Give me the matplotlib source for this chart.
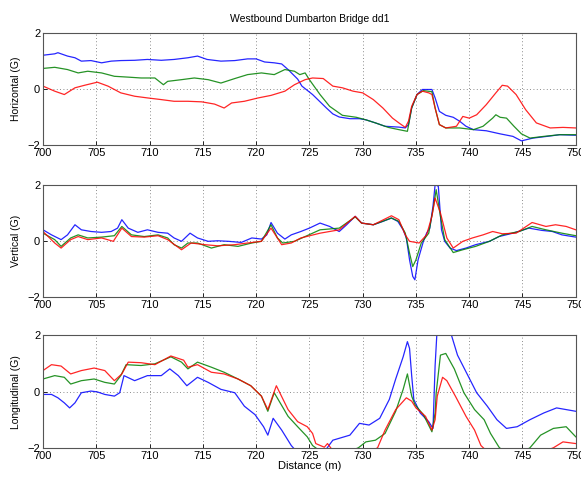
import matplotlib
matplotlib.use("Agg")
import matplotlib.pyplot as plt


# Horizontal (G)
h_blue_x = [700.0, 701.1, 701.4, 702.3, 703.0, 703.6, 704.5, 705.5, 706.4, 707.3, 708.6, 709.8, 711.1, 712.3,
            713.6, 714.5, 715.4, 716.7, 718.0, 719.2, 720.0, 720.8, 721.7, 722.4, 723.0, 723.9, 724.3, 725.3,
            726.6, 727.2, 727.8, 728.8, 729.7, 730.3, 731.2, 732.1, 733.4, 734.0, 734.3, 734.6, 735.1, 735.6,
            736.5, 736.8, 737.2, 737.8, 738.5, 739.1, 739.7, 740.4, 741.6, 742.9, 744.1, 744.9, 746.0, 747.3,
            748.5, 750.0]
h_blue_y = [1.20, 1.25, 1.29, 1.17, 1.11, 0.99, 1.01, 0.93, 0.99, 1.01, 1.02, 1.05, 1.02, 1.05,
            1.11, 1.17, 1.05, 0.99, 1.01, 1.07, 1.07, 0.96, 0.93, 0.89, 0.69, 0.35, 0.10, -0.20,
            -0.68, -0.89, -1.00, -1.06, -1.06, -1.10, -1.21, -1.33, -1.36, -1.39, -1.27, -0.68, -0.20, -0.02,
            -0.02, -0.32, -0.80, -0.94, -1.01, -1.15, -1.33, -1.45, -1.49, -1.60, -1.69, -1.85, -1.75, -1.69,
            -1.63, -1.65]
h_green_x = [700.0, 701.1, 702.3, 703.3, 704.2, 705.5, 706.7, 708.0, 709.2, 710.5, 711.3, 711.7, 713.0, 714.2,
             715.5, 716.7, 718.0, 719.2, 720.5, 721.7, 722.7, 723.6, 724.1, 724.6, 725.0, 726.0, 726.9, 728.1,
             729.4, 730.3, 731.2, 732.4, 733.4, 734.2, 734.6, 735.1, 735.7, 736.5, 736.8, 737.2, 737.8, 739.1,
             740.4, 741.3, 742.2, 742.5, 742.9, 743.5, 744.2, 744.9, 745.7, 747.0, 748.5, 750.0]
h_green_y = [0.73, 0.77, 0.69, 0.57, 0.63, 0.57, 0.45, 0.42, 0.39, 0.39, 0.15, 0.27, 0.33, 0.39,
             0.33, 0.21, 0.37, 0.51, 0.57, 0.51, 0.69, 0.63, 0.51, 0.57, 0.33, -0.20, -0.62, -0.94,
             -1.01, -1.10, -1.21, -1.37, -1.45, -1.51, -0.68, -0.20, -0.06, -0.10, -0.68, -1.27, -1.39, -1.39,
             -1.45, -1.33, -1.04, -0.92, -1.01, -1.04, -1.33, -1.60, -1.75, -1.69, -1.63, -1.63]
h_red_x = [700.0, 701.1, 702.0, 703.0, 703.9, 705.1, 706.1, 707.3, 708.6, 709.8, 711.1, 712.3, 713.6, 714.9,
           716.1, 717.0, 717.7, 718.9, 720.2, 721.4, 722.7, 723.6, 724.6, 725.3, 726.3, 727.2, 728.1, 729.1,
           730.0, 731.0, 731.9, 732.8, 733.4, 734.0, 734.3, 734.6, 735.1, 735.6, 736.2, 736.5, 736.8, 737.2,
           737.8, 738.8, 739.4, 740.0, 740.7, 741.6, 742.5, 743.1, 743.6, 744.4, 745.3, 746.3, 747.6, 748.8,
           750.0]
h_red_y = [0.10, -0.08, -0.20, 0.04, 0.13, 0.24, 0.10, -0.14, -0.26, -0.32, -0.38, -0.44, -0.44, -0.46,
           -0.54, -0.68, -0.50, -0.44, -0.32, -0.23, -0.08, 0.15, 0.33, 0.39, 0.37, 0.10, 0.04, -0.08,
           -0.14, -0.38, -0.68, -1.04, -1.21, -1.37, -1.15, -0.62, -0.20, -0.08, -0.14, -0.20, -0.68, -1.27,
           -1.39, -1.33, -0.98, -1.04, -0.92, -0.56, -0.14, 0.13, 0.10, -0.20, -0.74, -1.21, -1.39, -1.37,
           -1.39]

# Vertical (G)
v_blue_x = [700.0, 700.8, 701.7, 702.3, 703.0, 703.6, 704.5, 705.5, 706.4, 707.0, 707.4, 708.0, 708.9, 709.8,
            710.8, 711.7, 712.3, 713.0, 713.8, 714.5, 715.5, 716.4, 717.4, 718.6, 719.6, 720.5, 721.0, 721.4,
            722.0, 722.7, 723.3, 724.2, 725.0, 726.0, 726.9, 727.8, 728.5, 729.3, 729.9, 731.0, 731.9, 732.7,
            733.3, 733.8, 734.1, 734.4, 734.7, 734.9, 735.2, 735.7, 736.0, 736.3, 736.6, 736.8, 737.1, 737.4,
            737.7, 738.2, 738.8, 739.7, 740.6, 741.9, 742.8, 744.1, 745.6, 746.8, 747.8, 748.7, 750.0]
v_blue_y = [0.39, 0.21, 0.04, 0.21, 0.57, 0.39, 0.33, 0.30, 0.33, 0.45, 0.75, 0.45, 0.30, 0.39,
            0.30, 0.27, 0.10, -0.02, 0.27, 0.10, -0.02, 0.00, -0.02, -0.06, 0.10, 0.06, 0.21, 0.65,
            0.27, 0.06, 0.21, 0.33, 0.45, 0.63, 0.51, 0.33, 0.57, 0.87, 0.63, 0.57, 0.69, 0.81,
            0.69, 0.39, 0.10, -0.68, -1.27, -1.39, -0.68, -0.02, 0.27, 0.45, 1.23, 2.00, 1.94, 0.39,
            -0.02, -0.26, -0.35, -0.26, -0.14, -0.02, 0.15, 0.27, 0.45, 0.37, 0.33, 0.21, 0.13]
v_green_x = [700.0, 701.1, 701.7, 702.6, 703.3, 704.2, 705.5, 706.7, 707.4, 708.3, 709.5, 710.8, 711.7, 712.3,
             713.0, 713.6, 714.5, 715.8, 717.0, 718.3, 719.6, 720.5, 721.4, 722.0, 722.5, 723.6, 724.6, 726.0,
             727.8, 729.3, 729.9, 731.0, 732.7, 733.4, 734.0, 734.4, 734.7, 735.0, 735.5, 736.2, 736.6, 736.9,
             737.3, 737.7, 738.5, 739.4, 740.6, 741.9, 743.1, 744.7, 745.9, 747.2, 748.7, 750.0]
v_green_y = [0.27, 0.04, -0.20, 0.10, 0.21, 0.10, 0.13, 0.18, 0.51, 0.21, 0.15, 0.21, 0.10, -0.14,
             -0.26, -0.08, -0.08, -0.26, -0.14, -0.20, -0.08, -0.02, 0.57, 0.10, -0.08, -0.02, 0.15, 0.39,
             0.45, 0.85, 0.63, 0.57, 0.81, 0.69, 0.27, -0.44, -0.92, -0.68, -0.08, 0.27, 1.11, 1.82,
             0.87, 0.04, -0.42, -0.32, -0.20, -0.02, 0.21, 0.33, 0.51, 0.39, 0.27, 0.18]
v_red_x = [700.0, 701.1, 701.7, 702.6, 703.3, 704.2, 705.5, 706.6, 707.4, 708.3, 709.5, 710.8, 711.7, 713.0,
           713.9, 715.2, 716.4, 718.0, 719.2, 720.5, 721.4, 722.4, 723.3, 724.2, 726.0, 727.8, 729.3, 729.9,
           731.0, 732.7, 733.4, 734.0, 734.4, 735.3, 736.0, 736.5, 736.8, 737.3, 737.9, 738.5, 739.4, 740.3,
           741.3, 742.2, 743.1, 744.4, 745.9, 747.2, 748.1, 749.1, 750.0]
v_red_y = [0.33, -0.08, -0.26, 0.04, 0.15, 0.04, 0.10, -0.02, 0.45, 0.15, 0.13, 0.18, 0.04, -0.32,
           -0.08, -0.14, -0.18, -0.14, -0.08, -0.02, 0.45, -0.14, -0.08, 0.10, 0.27, 0.39, 0.87, 0.63,
           0.57, 0.89, 0.75, 0.21, -0.02, -0.08, 0.21, 0.87, 1.52, 0.99, 0.10, -0.26, -0.02, 0.10,
           0.21, 0.33, 0.25, 0.27, 0.65, 0.51, 0.57, 0.51, 0.39]

# Longitudinal (G)
l_blue_x = [700.0, 700.8, 701.4, 702.0, 702.5, 703.0, 703.6, 704.5, 705.1, 705.8, 706.7, 707.2, 707.6, 708.6,
            709.8, 711.1, 711.9, 712.7, 713.5, 714.5, 715.5, 716.7, 718.0, 718.9, 719.9, 720.7, 721.1, 721.6,
            722.4, 723.3, 724.2, 725.5, 726.6, 727.2, 728.8, 729.7, 730.6, 731.6, 732.5, 733.1, 733.8, 734.2,
            734.4, 734.6, 734.8, 735.4, 736.2, 736.6, 736.8, 737.0, 738.1, 738.9, 739.8, 740.7, 741.7, 742.6,
            743.5, 744.5, 745.7, 747.0, 748.2, 749.1, 750.0]
l_blue_y = [-0.10, -0.10, -0.22, -0.40, -0.58, -0.40, -0.04, 0.02, -0.01, -0.10, -0.16, -0.04, 0.57, 0.39,
            0.57, 0.57, 0.81, 0.57, 0.21, 0.51, 0.33, 0.08, -0.04, -0.52, -0.82, -1.25, -1.55, -0.95,
            -1.37, -1.92, -2.30, -2.50, -2.04, -1.73, -1.55, -1.13, -1.19, -0.95, -0.28, 0.45, 1.24, 1.78,
            1.54, 0.57, -0.28, -0.76, -1.07, -1.31, 0.93, 2.30, 2.30, 1.30, 0.63, -0.04, -0.52, -1.00,
            -1.31, -1.25, -1.00, -0.76, -0.58, -0.64, -0.70]
l_green_x = [700.0, 701.1, 702.0, 702.6, 703.6, 704.8, 705.8, 706.7, 707.3, 707.8, 709.2, 710.5, 712.0, 713.0,
             713.6, 714.5, 715.8, 717.0, 718.3, 719.5, 720.5, 721.1, 721.7, 723.0, 723.9, 724.8, 725.3, 727.0,
             729.6, 730.3, 731.2, 732.1, 733.1, 733.8, 734.2, 734.6, 734.9, 735.7, 736.5, 736.8, 736.9, 737.3,
             737.8, 738.6, 739.5, 740.5, 741.4, 742.0, 742.8, 744.0, 745.7, 746.7, 747.9, 749.1, 750.0]
l_green_y = [0.45, 0.57, 0.51, 0.27, 0.39, 0.45, 0.33, 0.27, 0.57, 0.96, 0.93, 0.99, 1.24, 1.05,
             0.81, 1.05, 0.87, 0.69, 0.45, 0.21, -0.16, -0.70, -0.04, -0.88, -1.25, -1.61, -1.92, -2.40,
             -2.00, -1.79, -1.73, -1.49, -0.70, 0.08, 0.63, -0.16, -0.46, -0.82, -1.43, -0.76, -0.04, 1.30,
             1.36, 0.81, -0.04, -0.64, -1.00, -1.49, -1.98, -2.40, -2.00, -1.55, -1.31, -1.25, -1.61]
l_red_x = [700.0, 700.8, 701.7, 702.6, 703.6, 704.8, 705.8, 706.7, 707.4, 708.0, 709.2, 710.5, 712.0, 713.2,
           713.6, 714.5, 715.8, 717.0, 718.3, 719.5, 720.5, 721.1, 721.9, 723.0, 723.9, 724.8, 725.3, 725.6,
           726.4, 726.7, 727.2, 729.0, 731.4, 732.1, 733.1, 734.1, 734.6, 735.0, 735.9, 736.5, 736.8, 737.0,
           737.5, 737.9, 738.7, 739.7, 740.5, 741.1, 741.6, 744.5, 747.9, 748.8, 750.0]
l_red_y = [0.75, 0.96, 0.91, 0.63, 0.75, 0.84, 0.75, 0.39, 0.63, 1.05, 1.03, 0.96, 1.27, 1.12,
           0.87, 0.96, 0.69, 0.63, 0.45, 0.21, -0.16, -0.64, 0.21, -0.64, -1.07, -1.25, -1.49, -1.85,
           -1.98, -1.85, -2.10, -2.50, -2.00, -1.37, -0.64, -0.22, -0.34, -0.58, -0.88, -1.37, -1.00, -0.16,
           0.51, 0.39, -0.16, -0.88, -1.37, -1.92, -2.10, -2.50, -2.00, -1.79, -1.85]

panels = [
    ("Horizontal (G)", (h_blue_x, h_blue_y), (h_green_x, h_green_y), (h_red_x, h_red_y)),
    ("Vertical (G)", (v_blue_x, v_blue_y), (v_green_x, v_green_y), (v_red_x, v_red_y)),
    ("Longitudinal (G)", (l_blue_x, l_blue_y), (l_green_x, l_green_y), (l_red_x, l_red_y)),
]
colors = ["#0000ff", "#008000", "#ff0000"]
xticks = list(range(700, 751, 5))
yticks = [-2, 0, 2]

plt.rcParams['font.family'] = ['Liberation Sans', 'DejaVu Sans']
plt.rcParams['font.size'] = 8

fig = plt.figure(figsize=(5.81, 4.82), dpi=100)
left, width = 0.074, 0.917
bottoms = [0.699, 0.384, 0.071]
height = 0.233

for i, (label, b, g, r) in enumerate(panels):
    ax = fig.add_axes([left, bottoms[i], width, height])
    for (xs, ys), c in zip([b, g, r], colors):
        ax.plot(xs, ys, color=c, lw=0.9, alpha=0.85)
    ax.set_xlim(700, 750)
    ax.set_ylim(-2, 2)
    ax.set_xticks(xticks)
    ax.set_yticks(yticks)
    ax.grid(True, color="black", linestyle=(0, (1, 3)), linewidth=0.6, alpha=0.6)
    ax.tick_params(direction="in", length=3, width=0.6, pad=2, labelsize=8)
    for s in ax.spines.values():
        s.set_color("#555555")
        s.set_linewidth(0.8)
    ax.set_ylabel(label, fontsize=7.5, labelpad=5)
    if i == 0:
        ax.set_title("Westbound Dumbarton Bridge dd1", fontsize=7.5, pad=8)
    if i == 2:
        ax.set_xlabel("Distance (m)", fontsize=8, labelpad=0)

fig.savefig("out.png", dpi=100)
